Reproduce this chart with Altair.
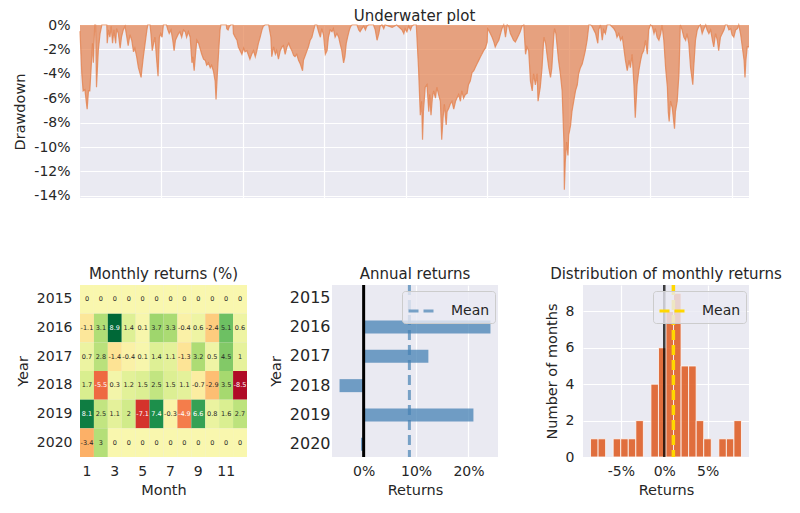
import altair as alt
import pandas as pd

FONT = "DejaVu Sans"
INK = "#262626"
PANEL = "#EAEAF2"

# ---------------- Underwater plot (days since 2016-01-01, drawdown in %) ----------------
uw_day = [0, 4, 7, 11, 16, 19, 22, 25, 28, 30, 33, 35, 37, 41, 45, 49, 60, 61, 64, 67, 70, 73, 76, 80, 82, 86,
          90, 93, 97, 101, 105, 108, 112, 116, 120, 123, 127, 131, 137, 138, 142, 146, 150, 152, 157, 159, 162,
          165, 168, 172, 175, 178, 181, 184, 187, 194, 197, 200, 204, 208, 211, 214, 217, 221, 224, 228, 232,
          236, 239, 243, 247, 251, 253, 256, 259, 262, 266, 269, 273, 277, 281, 284, 288, 292, 295, 299, 303,
          305, 308, 311, 314, 316, 328, 329, 332, 335, 338, 343, 344, 348, 352, 355, 359, 363, 367, 370, 374,
          378, 381, 385, 389, 393, 396, 400, 404, 408, 411, 415, 423, 425, 428, 430, 434, 438, 441, 445, 449,
          453, 456, 460, 464, 468, 471, 475, 479, 482, 486, 490, 494, 499, 501, 505, 509, 512, 516, 520, 524,
          527, 531, 535, 539, 542, 546, 550, 554, 557, 561, 565, 568, 572, 576, 580, 583, 587, 591, 594, 597,
          600, 604, 607, 610, 621, 625, 628, 632, 636, 640, 643, 647, 658, 662, 666, 670, 673, 677, 681, 684,
          700, 710, 722, 726, 729, 733, 737, 741, 744, 748, 754, 759, 763, 766, 768, 770, 774, 778, 782, 784,
          787, 790, 793, 797, 800, 804, 808, 811, 814, 817, 821, 823, 827, 830, 834, 838, 842, 845, 849, 853,
          856, 860, 864, 868, 871, 875, 879, 883, 886, 890, 894, 898, 901, 905, 909, 913, 914, 916, 920, 924,
          928, 931, 935, 939, 943, 946, 950, 954, 958, 961, 965, 969, 972, 976, 980, 984, 987, 991, 995, 999,
          1002, 1006, 1010, 1014, 1017, 1021, 1025, 1027, 1032, 1036, 1040, 1044, 1047, 1051, 1055, 1058, 1062,
          1064, 1067, 1070, 1073, 1077, 1081, 1085, 1086, 1088, 1091, 1094, 1096, 1100, 1103, 1107, 1111, 1115,
          1118, 1122, 1126, 1130, 1133, 1137, 1141, 1145, 1148, 1152, 1156, 1161, 1163, 1167, 1171, 1174, 1178,
          1182, 1189, 1197, 1201, 1204, 1208, 1212, 1216, 1219, 1223, 1227, 1231, 1234, 1238, 1242, 1245, 1249,
          1253, 1257, 1260, 1264, 1268, 1272, 1275, 1279, 1283, 1287, 1290, 1294, 1298, 1302, 1305, 1309, 1313,
          1317, 1319, 1321, 1324, 1328, 1333, 1335, 1339, 1343, 1346, 1350, 1354, 1358, 1361, 1365, 1369, 1374,
          1376, 1380, 1384, 1388, 1391, 1395, 1399, 1403, 1406, 1410, 1414, 1418, 1421, 1425, 1429, 1432, 1436,
          1440, 1444, 1447, 1451, 1455, 1459, 1462, 1466, 1470, 1474, 1477, 1481, 1485, 1489, 1491, 1493, 1496,
          1500]
uw_dd = [-0.5, -4.0, -5.4, -5.3, -6.9, -5.4, -5.4, -3.5, -1.5, -3.1, 0, 0, -5.1, -2.1, -0.7, 0, 0, -1.5, -0.4,
         -1.0, -0.1, -1.5, -0.4, -1.5, -0.3, -0.7, -1.9, -1.0, -0.4, -0.1, -1.0, -1.7, -0.8, -1.25, -2.2, -1.9,
         -2.6, -3.5, -4.3, -3.9, -2.6, -1.5, -0.4, 0, 0, -0.7, -2.1, -1.5, -1.0, -2.9, -4.2, -1.0, -0.7, -1.0, 0,
         0, -0.4, -0.7, -0.4, -1.25, -2.1, -1.25, -1.0, -0.7, -0.55, -1.0, -0.4, -0.55, -1.0, -0.55, -1.0, -3.1,
         -2.6, -3.75, -2.4, -1.25, -1.5, -1.9, -2.4, -2.8, -2.9, -3.3, -3.1, -3.5, -3.3, -3.75, -4.6, -6.1, -4.0,
         -2.1, -0.4, 0, 0, -0.3, -0.4, -0.1, 0, 0, -0.7, -1.0, -1.25, -1.8, -2.1, -2.4, -1.9, -2.2, -2.1, -2.5,
         -2.8, -2.4, -2.1, -2.6, -2.2, -1.5, -1.0, -0.4, -0.1, 0, 0, -0.4, -1.0, -2.6, -1.8, -2.4, -2.1, -2.8,
         -2.1, -1.8, -1.7, -2.4, -1.8, -1.5, -1.8, -2.1, -2.5, -2.6, -2.4, -2.9, -3.2, -3.75, -2.9, -2.5, -2.1,
         -1.8, -1.25, -1.0, -0.4, 0, 0, -0.55, -1.0, -0.3, -0.8, -2.4, -2.1, -1.0, -0.4, -0.55, -0.3, -1.0,
         -0.7, -1.0, -1.5, -2.1, -3.1, -2.6, -1.5, -1.0, -0.4, -0.1, 0, 0, -0.4, -0.55, -0.3, -0.1, -0.4, -0.1,
         0, 0, -0.4, -1.25, -0.7, -0.1, 0, -0.3, 0,
         -0.2, 0, -0.4, -0.7, -0.3, -0.55, -0.1, -0.4, -0.1, 0, 0, -3.5, -7.4, -6.25, -9.4, -7.1, -5.1, -4.9,
         -7.1, -5.7, -7.4, -6.0, -5.4, -6.0, -5.1, -5.7, -6.25, -9.4, -7.6, -6.5, -8.2, -7.1, -6.8, -6.5,
         -6.25, -6.9, -6.25, -6.0, -5.7, -6.25, -5.4, -6.0, -5.7, -5.6, -4.9, -4.6, -3.9, -3.75, -3.5, -3.2,
         -2.9, -2.6, -2.4, -2.1, -1.9, -1.4, -0.3, -0.4, -0.7, -1.0, -1.4, -1.8, -1.5, -1.25, -0.7, -0.3, 0,
         -1.0, 0, -0.1, -0.7, -1.0, -1.25, -1.4, -1.1, -0.8, -0.55, -0.1, 0, -2.4, -1.8, -2.1, -4.6, -5.4, -4.0,
         -4.9, -4.0, -6.25, -5.1, -3.5, -1.0, -1.5, -2.4, -3.5, -4.3, -3.5, -1.0, -0.3, -0.7, -1.8, -2.9, -4.0,
         -5.4, -9.6, -13.5, -11.25, -9.6, -10.7, -9.0, -8.2, -7.1, -6.25, -5.4, -4.9, -4.0, -3.5, -3.2, -2.6,
         -2.1, -1.25, 0, 0, -0.1, -0.4, -0.7, -1.5, -0.4, 0, -1.25, -0.4, -0.7, 0, 0, -0.3, -0.55, -1.0, -0.7,
         -1.25, -1.0, -1.8, -2.9, -3.75, -2.9, -3.5, -2.4, -4.9, -7.6, -4.9, -3.75, -2.9, -2.4, -2.1, -1.25,
         -2.4, -0.4, 0, -0.1, -0.7, -0.3, -1.0, -1.25, -0.7, 0, -1.25, -3.5, -5.1, -7.1, -7.9, -6.25, -6.8,
         -8.5, -7.1, -6.25, -4.0, 0, -0.4, -1.0, -1.25, -0.7, -1.5, -3.5, -4.9, -3.5, -1.25, -0.4, -0.1, 0,
         -0.7, -0.3, 0, -0.4, -0.7, -0.4, -1.25, -1.8, -0.7, -1.25, -2.1, -1.0, -0.7, -0.4, 0, 0, -0.4, -0.3,
         -0.8, -1.0, -0.4, -0.3, 0, -0.7, -1.8, -2.9, -4.3, -2.9, -1.8, -1.8]
uw_grid = ["2016-07-01", "2017-01-01", "2017-07-01", "2018-01-01", "2018-07-01",
           "2019-01-01", "2019-07-01", "2020-01-01"]
uw_ticks = [0, -2, -4, -6, -8, -10, -12, -14]

# ---------------- Monthly returns heatmap (%) ----------------
heat_years = ["2015", "2016", "2017", "2018", "2019", "2020"]
heat_months = [1, 2, 3, 4, 5, 6, 7, 8, 9, 10, 11, 12]
ret_2015 = [0, 0, 0, 0, 0, 0, 0, 0, 0, 0, 0, 0]
ret_2016 = [-1.1, 3.1, 8.9, 1.4, 0.1, 3.7, 3.3, -0.4, 0.6, -2.4, 5.1, 0.6]
ret_2017 = [0.7, 2.8, -1.4, -0.4, 0.1, 1.4, 1.1, -1.3, 3.2, 0.5, 4.5, 1]
ret_2018 = [1.7, -5.5, 0.3, 1.2, 1.5, 2.5, 1.5, 1.1, -0.7, -2.9, 3.5, -8.5]
ret_2019 = [8.1, 2.5, 1.1, 2, -7.1, 7.4, -0.3, -4.9, 6.6, 0.8, 1.6, 2.7]
ret_2020 = [-3.4, 3, 0, 0, 0, 0, 0, 0, 0, 0, 0, 0]
heat_month_ticks = [1, 3, 5, 7, 9, 11]

# ---------------- Annual returns (%) ----------------
ann_years = ["2015", "2016", "2017", "2018", "2019", "2020"]
ann_ret = [0.0, 24.2, 12.35, -4.6, 20.95, -0.5]
ann_mean = [8.73]

# ---------------- Distribution of monthly returns ----------------
hist_lo = [-8.5, -7.63, -6.76, -5.89, -5.02, -4.15, -3.28, -2.41, -1.54, -0.67,
           0.2, 1.07, 1.94, 2.81, 3.68, 4.55, 5.42, 6.29, 7.16, 8.03]
hist_hi = [-7.63, -6.76, -5.89, -5.02, -4.15, -3.28, -2.41, -1.54, -0.67, 0.2,
           1.07, 1.94, 2.81, 3.68, 4.55, 5.42, 6.29, 7.16, 8.03, 8.9]
hist_n = [1, 1, 0, 1, 1, 1, 2, 0, 4, 6, 8, 9, 5, 5, 2, 1, 0, 1, 1, 2]
month_mean = [1.05]

# ---------------- Panel titles ----------------
titles = ["Underwater plot", "Monthly returns (%)", "Annual returns", "Distribution of monthly returns"]

# =====================================================================
pct = "datum.value + '%'"


def title_layer(text, width, dy):
    return alt.Chart(pd.DataFrame({"t": [text]})).mark_text(
        font=FONT, fontSize=15, color=INK, baseline="alphabetic", align="center"
    ).encode(text="t:N", x=alt.value(width / 2), y=alt.value(dy))


def legend_for(col, opacity):
    return alt.Legend(title=None, orient="none", legendX=70, legendY=6,
                      fillColor="rgba(234,234,242,0.8)", strokeColor="#cccccc",
                      cornerRadius=3, padding=5, symbolType="stroke", symbolSize=729,
                      symbolStrokeWidth=3, symbolStrokeColor=col, symbolOpacity=opacity,
                      labelFont=FONT, labelFontSize=14, labelColor=INK, labelOffset=14)


# Underwater
W_TOP, H_TOP = 669, 173
uw_df = pd.DataFrame({
    "date": (pd.Timestamp("2016-01-01") + pd.to_timedelta(uw_day, unit="D")).strftime("%Y-%m-%d"),
    "dd": uw_dd,
})
grid_vals = [alt.DateTime(year=int(s[:4]), month=int(s[5:7]), date=int(s[8:]), utc=True) for s in uw_grid]
uw_area = alt.Chart(uw_df).mark_area(
    color="#E4824F", opacity=0.7, interpolate="linear",
    line={"color": "#E4824F", "strokeWidth": 1.2, "opacity": 0.8},
).encode(
    x=alt.X("date:T", scale=alt.Scale(type="utc", nice=False),
            axis=alt.Axis(values=grid_vals, labels=False, ticks=False, domain=False, title=None, grid=True)),
    y=alt.Y("dd:Q", scale=alt.Scale(domain=[-14.18, 0], nice=False, zero=False),
            axis=alt.Axis(values=uw_ticks, labelExpr=pct, title="Drawdown", labelPadding=10, titlePadding=6)),
)
underwater = alt.layer(uw_area, title_layer(titles[0], W_TOP, -4)).properties(width=W_TOP, height=H_TOP)

# Heatmap
W_H, H_B = 167, 172
rows = []
for y, vals in zip(heat_years, [ret_2015, ret_2016, ret_2017, ret_2018, ret_2019, ret_2020]):
    for m, v in zip(heat_months, vals):
        rows.append({"year": y, "month": m, "value": v, "label": f"{v:g}"})
heat_df = pd.DataFrame(rows)
hbase = alt.Chart(heat_df).encode(
    x=alt.X("month:O", scale=alt.Scale(paddingInner=0, paddingOuter=0),
            axis=alt.Axis(values=heat_month_ticks, labelAngle=0, title="Month", grid=False,
                          labelPadding=7, titlePadding=5)),
    y=alt.Y("year:O", sort=heat_years, scale=alt.Scale(paddingInner=0, paddingOuter=0),
            axis=alt.Axis(title="Year", grid=False, labelPadding=8, titlePadding=6)),
)
heat = alt.layer(
    hbase.mark_rect().encode(
        color=alt.Color("value:Q", scale=alt.Scale(scheme="redyellowgreen", domain=[-8.9, 8.9]), legend=None)),
    hbase.mark_text(font=FONT, fontSize=6.5).encode(
        text="label:N",
        color=alt.condition("datum.value > 5.5 || datum.value < -4", alt.value("white"), alt.value(INK))),
    title_layer(titles[1], W_H, -6),
).properties(width=W_H, height=H_B)

# Annual returns
W_A = 166
ann_df = pd.DataFrame({"year": ann_years, "ret": ann_ret})
ann_x = alt.Scale(domain=[-6.04, 25.64], nice=False, zero=False)
ann_bars = alt.Chart(ann_df).mark_bar(color="steelblue", opacity=0.75).encode(
    x=alt.X("ret:Q", scale=ann_x,
            axis=alt.Axis(values=[0, 10, 20], labelExpr=pct, title="Returns", labelPadding=7, titlePadding=5)),
    y=alt.Y("year:O", sort=ann_years, scale=alt.Scale(paddingInner=0.556, paddingOuter=0.213),
            axis=alt.Axis(title="Year", bandPosition=0.5, labelPadding=2, titlePadding=6, labelFontSize=16)),
)
ann_zero = alt.Chart(pd.DataFrame({"x": [0]})).mark_rule(color="black", strokeWidth=3).encode(
    x=alt.X("x:Q", scale=ann_x))
ann_mean_df = pd.DataFrame({"x": ann_mean, "lab": ["Mean"]})
ann_mean_rule = alt.Chart(ann_mean_df).mark_rule(color="steelblue", opacity=0.7, strokeWidth=3).encode(
    x=alt.X("x:Q", scale=ann_x),
    strokeDash=alt.StrokeDash("lab:N", scale=alt.Scale(domain=["Mean"], range=[[10, 5]]),
                              legend=legend_for("steelblue", 0.7)),
)
annual = alt.layer(ann_bars, ann_zero, ann_mean_rule, title_layer(titles[2], W_A, -6)).properties(
    width=W_A, height=H_B)

# Distribution
W_D = 166
hist_df = pd.DataFrame({"lo": hist_lo, "hi": hist_hi, "n": hist_n})
dist_x = alt.Scale(domain=[-9.37, 9.77], nice=False, zero=False)
dist_bars = alt.Chart(hist_df).transform_filter("datum.n > 0").mark_rect(
    color="#DF5E25", opacity=0.88, stroke="white", strokeWidth=0.8).encode(
    x=alt.X("lo:Q", scale=dist_x,
            axis=alt.Axis(values=[-5, 0, 5], labelExpr=pct, title="Returns", labelPadding=7, titlePadding=5)),
    x2="hi:Q",
    y=alt.Y("n:Q", scale=alt.Scale(domain=[0, 9.45], nice=False),
            axis=alt.Axis(values=[0, 2, 4, 6, 8], title="Number of months", labelPadding=9, titlePadding=6)),
    y2=alt.Y2(datum=0),
)
dist_zero = alt.Chart(pd.DataFrame({"x": [0]})).mark_rule(color="black", opacity=0.75, strokeWidth=2.5).encode(
    x=alt.X("x:Q", scale=dist_x))
dist_mean_df = pd.DataFrame({"x": month_mean, "lab": ["Mean"]})
dist_mean_rule = alt.Chart(dist_mean_df).mark_rule(color="gold", strokeWidth=3.5).encode(
    x=alt.X("x:Q", scale=dist_x),
    strokeDash=alt.StrokeDash("lab:N", scale=alt.Scale(domain=["Mean"], range=[[10, 5]]),
                              legend=legend_for("gold", 1)),
)
dist = alt.layer(dist_bars, dist_zero, dist_mean_rule, title_layer(titles[3], W_D, -6)).properties(
    width=W_D, height=H_B)

bottom = alt.hconcat(heat, annual, dist, spacing=85, bounds="flush").resolve_scale(
    color="independent", strokeDash="independent").resolve_legend(strokeDash="independent")

chart = alt.vconcat(underwater, bottom, spacing=87, bounds="flush").resolve_scale(
    color="independent", strokeDash="independent").resolve_legend(strokeDash="independent").properties(
    padding={"left": 4, "top": 1, "right": 5, "bottom": 5}, background="white"
).configure_view(fill=PANEL, stroke=None).configure_axis(
    domain=False, ticks=False, gridColor="white", gridWidth=1.2,
    labelFont=FONT, labelFontSize=14, labelColor=INK,
    titleFont=FONT, titleFontSize=14.5, titleColor=INK, titleFontWeight="normal",
)

chart.save("out.html", embed_options={"renderer": "svg", "actions": False})
